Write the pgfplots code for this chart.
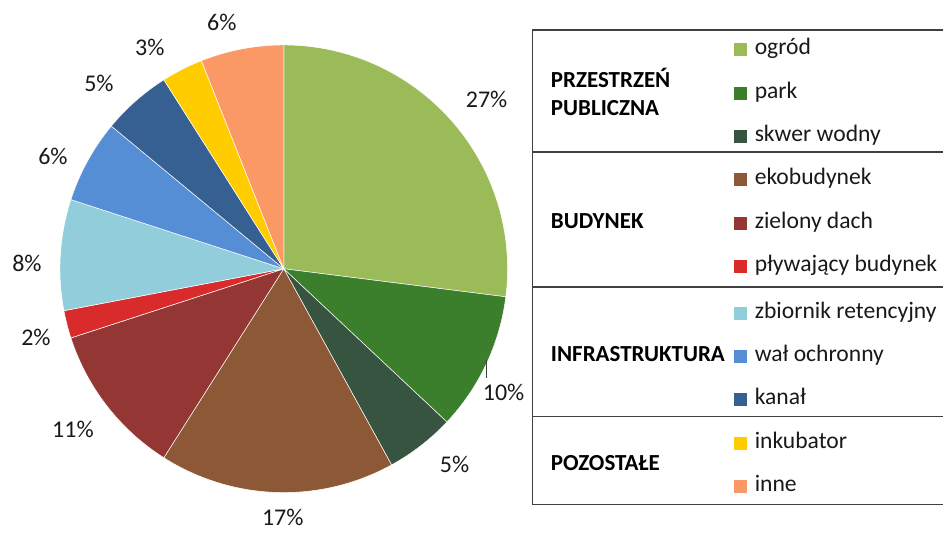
\documentclass[border=0pt]{standalone}
\usepackage{pgfplots}
\usepackage{pgfplotstable}
\pgfplotsset{compat=1.18}
\usepackage{fontspec}
\setmainfont{Carlito}
\definecolor{cA}{HTML}{9BBB59}
\definecolor{cB}{HTML}{3B7E2C}
\definecolor{cC}{HTML}{36543F}
\definecolor{cD}{HTML}{8D5835}
\definecolor{cE}{HTML}{943634}
\definecolor{cF}{HTML}{D92B2B}
\definecolor{cG}{HTML}{92CDDC}
\definecolor{cH}{HTML}{558ED5}
\definecolor{cI}{HTML}{376092}
\definecolor{cJ}{HTML}{FFCC00}
\definecolor{cK}{HTML}{FB9966}
\definecolor{frame}{HTML}{404040}
% value, colour, label position (px, y up)
\pgfplotstableread{
name value color lx ly
ogrod 27 cA 487 429
park 10 cB 504 136
skwer 5 cC 455 64
ekobudynek 17 cD 283 11
zielony 11 cE 73 99
plywajacy 2 cF 36 191
zbiornik 8 cG 27 265
wal 6 cH 53 372
kanal 5 cI 99 446
inkubator 3 cJ 150 482
inne 6 cK 222 507
}\piedata
\begin{document}
\begin{tikzpicture}
\begin{axis}[
  scale only axis, width=472pt, height=264.5pt,
  xmin=0, xmax=944, ymin=0, ymax=529,
  hide axis, clip=false,
]
\path (axis cs:0,0) rectangle (axis cs:944,529);
\def\cum{0}
\pgfplotsforeachungrouped \i in {0,...,10}{%
  \pgfplotstablegetelem{\i}{value}\of\piedata \let\v\pgfplotsretval
  \pgfplotstablegetelem{\i}{color}\of\piedata \let\c\pgfplotsretval
  \pgfplotstablegetelem{\i}{lx}\of\piedata \let\lx\pgfplotsretval
  \pgfplotstablegetelem{\i}{ly}\of\piedata \let\ly\pgfplotsretval
  \pgfmathsetmacro\a{90-3.6*\cum}%
  \pgfmathsetmacro\b{90-3.6*(\cum+\v)}%
  \edef\temp{\noexpand\fill[fill=\c, draw=white, line width=0.25pt] (axis cs:284,260) -- ++(\a:112pt) arc[start angle=\a, end angle=\b, radius=112pt] -- cycle;
    \noexpand\node[font=\noexpand\fontsize{12}{14}\noexpand\selectfont, text=black!90] at (axis cs:\lx,\ly) {\v\noexpand\%};}%
  \temp
  \pgfmathsetmacro\cum{\cum+\v}%
}
\draw[black!75, line width=0.6pt] (axis cs:487,169) -- (axis cs:487,151);
\end{axis}
% legend table (1px = 0.5pt, same origin as axis)
\begin{scope}[x=0.5pt, y=0.5pt]
\begin{scope}[line width=0.8pt, draw=frame]
\draw[frame] (944,499) -- (533,499) -- (533,24) -- (944,24);
\draw[frame] (533,377) -- (944,377);
\draw[frame] (533,242) -- (944,242);
\draw[frame] (533,112) -- (944,112);
\end{scope}
\begin{scope}[every node/.style={font=\fontsize{11.5}{14}\selectfont\bfseries, align=left, anchor=west, inner sep=0pt}]
\node at (551,437) {PRZESTRZEŃ\\PUBLICZNA};
\node at (551,308) {BUDYNEK};
\node at (551,175) {INFRASTRUKTURA};
\node at (551,66) {POZOSTAŁE};
\end{scope}
\begin{scope}[every node/.style={font=\fontsize{11.8}{13}\selectfont, anchor=mid west, inner sep=0pt, text=black!90}]
\foreach \col/\y/\t in {cA/479/ogród, cB/435/park, cC/392/skwer wodny, cD/349/ekobudynek, cE/305/zielony dach, cF/262/pływający budynek, cG/215/zbiornik retencyjny, cH/172/wał ochronny, cI/129/kanał, cJ/85/inkubator, cK/42/inne}{
  \fill[\col] (735,\y-6.5) rectangle (748,\y+6.5);
  \node at (755,\y) {\t};
}
\end{scope}
\end{scope}
\end{tikzpicture}
\end{document}
